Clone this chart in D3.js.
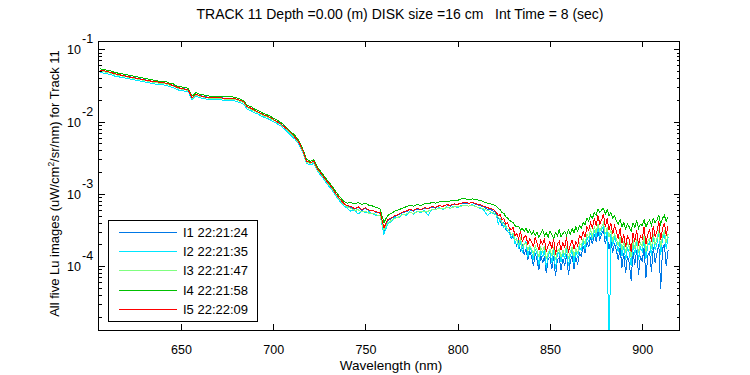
<!DOCTYPE html>
<html>
<head>
<meta charset="utf-8">
<script src="https://cdn.jsdelivr.net/npm/d3@7"></script>
<style>
  body { margin: 0; background: #fff; }
  text { font-family: "Liberation Sans", Arial, sans-serif; fill: #000; }
</style>
</head>
<body>
<div id="chart"></div>
<script>
// wavelength grid (nm): 2 nm steps to 820, then 1 nm steps in the noisy tail
const wavelengths = [
  606,608,610,612,614,616,618,620,622,624,
  626,628,630,632,634,636,638,640,642,644,
  646,648,650,652,654,656,658,660,662,664,
  666,668,670,672,674,676,678,680,682,684,
  686,688,690,692,694,696,698,700,702,704,
  706,708,710,712,714,716,718,720,722,724,
  726,728,730,732,734,736,738,740,742,744,
  746,748,750,752,754,756,758,760,762,764,
  766,768,770,772,774,776,778,780,782,784,
  786,788,790,792,794,796,798,800,802,804,
  806,808,810,812,814,816,818,820,
  821,822,823,824,825,826,827,828,829,830,
  831,832,833,834,835,836,837,838,839,840,
  841,842,843,844,845,846,847,848,849,850,
  851,852,853,854,855,856,857,858,859,860,
  861,862,863,864,865,866,867,868,869,870,
  871,872,873,874,875,876,877,878,879,880,
  881,882,883,884,885,886,887,888,889,890,
  891,892,893,894,895,896,897,898,899,900,
  901,902,903,904,905,906,907,908,909,910,
  911,912,913,914
];

// log10(Lu), one list per image
const logI1 = [
  -1.29,-1.30,-1.31,-1.32,-1.34,-1.35,-1.36,-1.37,-1.38,-1.39,
  -1.40,-1.41,-1.42,-1.43,-1.44,-1.45,-1.46,-1.46,-1.47,-1.49,
  -1.50,-1.53,-1.54,-1.55,-1.56,-1.67,-1.62,-1.64,-1.65,-1.66,
  -1.67,-1.67,-1.67,-1.67,-1.68,-1.68,-1.68,-1.69,-1.71,-1.73,
  -1.80,-1.82,-1.85,-1.87,-1.90,-1.92,-1.94,-1.97,-2.00,-2.03,
  -2.07,-2.12,-2.17,-2.22,-2.29,-2.40,-2.55,-2.57,-2.55,-2.66,
  -2.72,-2.79,-2.86,-2.92,-3.00,-3.07,-3.13,-3.17,-3.19,-3.21,
  -3.19,-3.23,-3.20,-3.24,-3.23,-3.26,-3.27,-3.52,-3.38,-3.34,
  -3.31,-3.29,-3.26,-3.25,-3.22,-3.24,-3.21,-3.22,-3.20,-3.21,
  -3.18,-3.20,-3.16,-3.18,-3.15,-3.17,-3.14,-3.15,-3.13,-3.13,
  -3.13,-3.12,-3.15,-3.16,-3.18,-3.21,-3.22,-3.25,
  -3.28,-3.34,-3.36,-3.44,-3.40,-3.50,-3.52,-3.50,-3.62,-3.58,
  -3.66,-3.72,-3.66,-3.80,-3.72,-3.84,-3.76,-3.92,-3.80,-3.86,
  -4.00,-3.82,-3.92,-4.06,-3.84,-3.96,-3.86,-4.10,-3.90,-3.88,
  -4.04,-3.86,-4.14,-3.92,-3.88,-4.06,-3.90,-4.00,-3.84,-4.12,
  -3.94,-3.86,-4.04,-3.88,-3.98,-3.82,-3.86,-3.72,-3.82,-3.66,
  -3.74,-3.60,-3.70,-3.56,-3.66,-3.52,-3.64,-3.56,-3.50,-3.70,
  -3.58,-3.76,-3.64,-3.82,-3.68,-3.78,-3.92,-3.74,-4.02,-3.82,
  -4.10,-3.86,-3.96,-4.20,-3.80,-3.98,-3.78,-4.12,-3.86,-3.94,
  -3.74,-4.16,-3.86,-3.80,-4.08,-3.74,-3.96,-3.82,-3.70,-4.32,
  -3.76,-3.70,-4.00,-3.78
];
const logI2 = [
  -1.32,-1.33,-1.34,-1.35,-1.37,-1.38,-1.39,-1.40,-1.41,-1.42,
  -1.43,-1.44,-1.45,-1.46,-1.47,-1.48,-1.49,-1.49,-1.50,-1.52,
  -1.53,-1.56,-1.57,-1.58,-1.59,-1.70,-1.65,-1.67,-1.68,-1.69,
  -1.70,-1.70,-1.70,-1.70,-1.71,-1.71,-1.71,-1.72,-1.74,-1.76,
  -1.83,-1.85,-1.88,-1.90,-1.93,-1.95,-1.97,-2.00,-2.03,-2.06,
  -2.10,-2.15,-2.20,-2.25,-2.32,-2.43,-2.58,-2.60,-2.58,-2.69,
  -2.75,-2.82,-2.89,-2.95,-3.03,-3.10,-3.16,-3.20,-3.24,-3.22,
  -3.28,-3.24,-3.26,-3.25,-3.28,-3.30,-3.30,-3.56,-3.42,-3.38,
  -3.33,-3.33,-3.28,-3.30,-3.25,-3.28,-3.24,-3.26,-3.23,-3.30,
  -3.21,-3.22,-3.19,-3.22,-3.18,-3.20,-3.17,-3.19,-3.16,-3.16,
  -3.17,-3.15,-3.18,-3.20,-3.22,-3.30,-3.26,-3.28,
  -3.30,-3.42,-3.34,-3.40,-3.46,-3.44,-3.52,-3.55,-3.60,-3.56,
  -3.70,-3.62,-3.76,-3.66,-3.82,-3.70,-3.66,-3.88,-3.74,-3.80,
  -3.92,-3.76,-3.84,-3.98,-3.78,-3.88,-3.76,-4.02,-3.86,-3.80,
  -3.96,-3.78,-4.04,-3.84,-3.80,-3.94,-3.82,-3.90,-3.76,-4.00,
  -3.86,-3.78,-3.96,-3.80,-3.88,-3.74,-3.78,-3.66,-3.76,-3.60,
  -3.66,-3.54,-3.64,-3.50,-3.60,-3.46,-3.58,-3.50,-3.44,-3.62,
  -3.52,-5.40,-3.56,-3.72,-3.60,-3.68,-3.80,-3.64,-3.86,-3.72,
  -3.92,-3.74,-3.82,-4.00,-3.70,-3.84,-3.66,-3.92,-3.74,-3.80,
  -3.62,-3.90,-3.72,-3.66,-3.86,-3.60,-3.78,-3.68,-3.54,-3.84,
  -3.62,-3.56,-3.76,-3.60
];
const logI3 = [
  -1.30,-1.31,-1.32,-1.33,-1.35,-1.36,-1.37,-1.38,-1.39,-1.40,
  -1.41,-1.42,-1.43,-1.44,-1.45,-1.46,-1.47,-1.47,-1.48,-1.50,
  -1.51,-1.54,-1.55,-1.56,-1.57,-1.68,-1.63,-1.65,-1.66,-1.67,
  -1.68,-1.68,-1.68,-1.68,-1.69,-1.69,-1.69,-1.70,-1.72,-1.74,
  -1.81,-1.83,-1.86,-1.88,-1.91,-1.93,-1.95,-1.98,-2.01,-2.04,
  -2.08,-2.13,-2.18,-2.23,-2.30,-2.41,-2.56,-2.58,-2.56,-2.67,
  -2.73,-2.80,-2.87,-2.93,-3.01,-3.08,-3.14,-3.18,-3.20,-3.23,
  -3.22,-3.25,-3.24,-3.27,-3.27,-3.29,-3.31,-3.50,-3.40,-3.37,
  -3.34,-3.32,-3.29,-3.28,-3.26,-3.27,-3.25,-3.25,-3.24,-3.24,
  -3.22,-3.22,-3.20,-3.21,-3.19,-3.20,-3.18,-3.18,-3.17,-3.16,
  -3.17,-3.16,-3.18,-3.19,-3.21,-3.23,-3.25,-3.27,
  -3.30,-3.33,-3.35,-3.40,-3.41,-3.46,-3.48,-3.52,-3.56,-3.55,
  -3.63,-3.64,-3.70,-3.62,-3.74,-3.70,-3.68,-3.78,-3.72,-3.76,
  -3.84,-3.72,-3.78,-3.88,-3.74,-3.80,-3.72,-3.90,-3.82,-3.76,
  -3.86,-3.74,-3.92,-3.80,-3.76,-3.88,-3.78,-3.84,-3.72,-3.90,
  -3.80,-3.74,-3.86,-3.76,-3.82,-3.68,-3.72,-3.62,-3.70,-3.56,
  -3.60,-3.50,-3.58,-3.46,-3.54,-3.42,-3.52,-3.46,-3.40,-3.56,
  -3.46,-3.60,-3.50,-3.66,-3.56,-3.62,-3.72,-3.60,-3.78,-3.66,
  -3.82,-3.68,-3.74,-3.88,-3.64,-3.76,-3.62,-3.82,-3.68,-3.72,
  -3.58,-3.80,-3.66,-3.62,-3.76,-3.56,-3.70,-3.62,-3.50,-3.74,
  -3.58,-3.52,-3.68,-3.56
];
const logI4 = [
  -1.27,-1.28,-1.29,-1.30,-1.32,-1.33,-1.34,-1.35,-1.36,-1.37,
  -1.38,-1.39,-1.40,-1.41,-1.42,-1.43,-1.44,-1.44,-1.45,-1.47,
  -1.48,-1.51,-1.52,-1.53,-1.54,-1.65,-1.60,-1.62,-1.63,-1.64,
  -1.65,-1.65,-1.65,-1.65,-1.65,-1.66,-1.66,-1.67,-1.69,-1.71,
  -1.78,-1.79,-1.83,-1.85,-1.88,-1.90,-1.92,-1.95,-1.98,-2.01,
  -2.05,-2.10,-2.15,-2.20,-2.27,-2.38,-2.52,-2.55,-2.53,-2.63,
  -2.70,-2.77,-2.83,-2.90,-2.97,-3.04,-3.10,-3.13,-3.12,-3.14,
  -3.12,-3.15,-3.13,-3.16,-3.17,-3.19,-3.21,-3.40,-3.30,-3.27,
  -3.24,-3.22,-3.20,-3.18,-3.16,-3.17,-3.15,-3.16,-3.14,-3.14,
  -3.12,-3.13,-3.11,-3.11,-3.10,-3.10,-3.09,-3.09,-3.07,-3.07,
  -3.08,-3.07,-3.08,-3.09,-3.11,-3.13,-3.14,-3.16,
  -3.17,-3.20,-3.22,-3.26,-3.27,-3.32,-3.33,-3.37,-3.38,-3.40,
  -3.44,-3.46,-3.45,-3.50,-3.48,-3.52,-3.47,-3.54,-3.50,-3.56,
  -3.52,-3.58,-3.53,-3.60,-3.55,-3.50,-3.58,-3.54,-3.60,-3.52,
  -3.56,-3.62,-3.54,-3.58,-3.50,-3.60,-3.55,-3.52,-3.58,-3.50,
  -3.56,-3.48,-3.54,-3.46,-3.52,-3.44,-3.47,-3.40,-3.43,-3.34,
  -3.38,-3.30,-3.34,-3.26,-3.30,-3.21,-3.26,-3.22,-3.20,-3.28,
  -3.22,-3.30,-3.26,-3.34,-3.30,-3.38,-3.42,-3.36,-3.46,-3.40,
  -3.48,-3.42,-3.46,-3.52,-3.40,-3.46,-3.38,-3.48,-3.42,-3.44,
  -3.36,-3.46,-3.40,-3.36,-3.44,-3.34,-3.40,-3.36,-3.30,-3.42,
  -3.34,-3.30,-3.38,-3.32
];
const logI5 = [
  -1.285,-1.297,-1.308,-1.322,-1.336,-1.349,-1.360,-1.372,-1.383,-1.392,
  -1.400,-1.412,-1.423,-1.432,-1.441,-1.447,-1.455,-1.462,-1.470,-1.486,
  -1.504,-1.526,-1.542,-1.552,-1.564,-1.668,-1.624,-1.640,-1.654,-1.664,
  -1.670,-1.671,-1.673,-1.674,-1.675,-1.676,-1.679,-1.690,-1.706,-1.728,
  -1.797,-1.815,-1.846,-1.874,-1.897,-1.918,-1.940,-1.969,-2.000,-2.033,
  -2.072,-2.118,-2.166,-2.224,-2.290,-2.400,-2.545,-2.570,-2.548,-2.655,
  -2.722,-2.790,-2.856,-2.922,-3.000,-3.068,-3.128,-3.165,-3.172,-3.205,
  -3.180,-3.215,-3.195,-3.225,-3.230,-3.250,-3.262,-3.470,-3.360,-3.335,
  -3.300,-3.285,-3.255,-3.240,-3.215,-3.230,-3.205,-3.218,-3.195,-3.200,
  -3.178,-3.185,-3.165,-3.172,-3.150,-3.160,-3.140,-3.145,-3.128,-3.122,
  -3.130,-3.118,-3.140,-3.148,-3.170,-3.192,-3.205,-3.230,
  -3.26,-3.30,-3.29,-3.36,-3.34,-3.42,-3.40,-3.47,-3.50,-3.46,
  -3.58,-3.55,-3.62,-3.52,-3.66,-3.60,-3.58,-3.70,-3.62,-3.66,
  -3.74,-3.60,-3.68,-3.78,-3.64,-3.70,-3.62,-3.80,-3.72,-3.66,
  -3.76,-3.62,-3.84,-3.70,-3.66,-3.78,-3.68,-3.74,-3.60,-3.82,
  -3.70,-3.64,-3.76,-3.66,-3.72,-3.58,-3.62,-3.52,-3.60,-3.46,
  -3.50,-3.40,-3.48,-3.34,-3.44,-3.30,-3.42,-3.36,-3.28,-3.46,
  -3.34,-3.50,-3.40,-3.56,-3.44,-3.52,-3.62,-3.48,-3.68,-3.56,
  -3.74,-3.58,-3.64,-3.80,-3.54,-3.66,-3.50,-3.72,-3.58,-3.62,
  -3.46,-3.70,-3.56,-3.50,-3.66,-3.44,-3.60,-3.52,-3.38,-3.64,
  -3.48,-3.40,-3.58,-3.44
];

const seriesNames = ["I1 22:21:24", "I2 22:21:35", "I3 22:21:47", "I4 22:21:58", "I5 22:22:09"];
const seriesColors = ["#0078e6", "#00e6ff", "#80ff80", "#00c000", "#ff0000"];
const seriesLogs = [logI1, logI2, logI3, logI4, logI5];

const xTicks = [650, 700, 750, 800, 850, 900];
const yDecades = [-1, -2, -3, -4];

const width = 750;
const height = 375;
const plot = { left: 98.5, right: 679.5, top: 41, bottom: 330 };

const svg = d3.select("#chart")
  .append("svg")
  .attr("width", width)
  .attr("height", height);

const x = d3.scaleLinear().domain([605.3, 920.2]).range([plot.left, plot.right]);
const y = d3.scaleLog().domain([1.303e-5, 0.1303]).range([plot.bottom, plot.top]);

svg.append("defs").append("clipPath").attr("id", "plotClip")
  .append("rect")
  .attr("x", plot.left).attr("y", plot.top)
  .attr("width", plot.right - plot.left).attr("height", plot.bottom - plot.top);

// spectra, I1 drawn first so I5 ends on top
const line = d3.line()
  .x((d, i) => x(wavelengths[i]))
  .y(d => y(Math.pow(10, d)));

svg.append("g").attr("clip-path", "url(#plotClip)")
  .selectAll("path")
  .data(seriesLogs)
  .enter()
  .append("path")
  .attr("d", d => line(d))
  .attr("fill", "none")
  .attr("stroke", (d, i) => seriesColors[i])
  .attr("stroke-width", 1)
  .attr("shape-rendering", "crispEdges");

// axes: inward ticks on all four sides
const majorY = yDecades.map(k => Math.pow(10, k));
const minorY = y.ticks().filter(v => {
  const m = Math.round(v / Math.pow(10, Math.floor(Math.log10(v) + 1e-9)));
  return m !== 1;
});

const styleAxis = g => {
  g.select(".domain").remove();
  g.selectAll("line").attr("stroke", "#000").attr("shape-rendering", "crispEdges");
};

svg.append("g")
  .attr("transform", `translate(0,${plot.bottom})`)
  .call(d3.axisBottom(x).tickValues(xTicks).tickSizeInner(-6).tickSizeOuter(0).tickPadding(15))
  .call(styleAxis)
  .call(g => g.selectAll("text").attr("font-size", 12.5).attr("font-family", null));

svg.append("g")
  .attr("transform", `translate(0,${plot.top})`)
  .call(d3.axisTop(x).tickValues(xTicks).tickSizeInner(-6).tickSizeOuter(0).tickFormat(""))
  .call(styleAxis);

svg.append("g")
  .attr("transform", `translate(${plot.left},0)`)
  .call(d3.axisLeft(y).tickValues(minorY).tickSizeInner(-3).tickSizeOuter(0).tickFormat(""))
  .call(styleAxis);

svg.append("g")
  .attr("transform", `translate(${plot.right},0)`)
  .call(d3.axisRight(y).tickValues(minorY).tickSizeInner(-3).tickSizeOuter(0).tickFormat(""))
  .call(styleAxis);

svg.append("g")
  .attr("transform", `translate(${plot.left},0)`)
  .call(d3.axisLeft(y).tickValues(majorY).tickSizeInner(-6).tickSizeOuter(0).tickFormat(""))
  .call(styleAxis);

svg.append("g")
  .attr("transform", `translate(${plot.right},0)`)
  .call(d3.axisRight(y).tickValues(majorY).tickSizeInner(-6).tickSizeOuter(0).tickFormat(""))
  .call(styleAxis);

// decade labels 10^k
const yLabels = svg.append("g").selectAll("g")
  .data(yDecades)
  .enter()
  .append("g")
  .attr("transform", k => `translate(0,${y(Math.pow(10, k))})`);

yLabels.append("text")
  .attr("x", 81)
  .attr("y", 5)
  .attr("text-anchor", "end")
  .attr("font-size", 12.5)
  .text("10");

yLabels.append("text")
  .attr("x", 82)
  .attr("y", -6)
  .attr("font-size", 12.5)
  .text(k => k);

// plot box
svg.append("rect")
  .attr("x", plot.left).attr("y", plot.top)
  .attr("width", plot.right - plot.left).attr("height", plot.bottom - plot.top)
  .attr("fill", "none")
  .attr("stroke", "#000")
  .attr("shape-rendering", "crispEdges");

// titles
svg.append("text")
  .attr("x", 400)
  .attr("y", 19)
  .attr("text-anchor", "middle")
  .attr("font-size", 14)
  .style("white-space", "pre")
  .text("TRACK 11 Depth =0.00 (m) DISK size =16 cm   Int Time = 8 (sec)");

svg.append("text")
  .attr("x", 391)
  .attr("y", 370)
  .attr("text-anchor", "middle")
  .attr("font-size", 13.5)
  .text("Wavelength (nm)");

const yTitle = svg.append("text")
  .attr("transform", `translate(59,${(plot.top + plot.bottom) / 2 - 2}) rotate(-90)`)
  .attr("text-anchor", "middle")
  .attr("font-size", 13);
yTitle.append("tspan").text("All five Lu images (uW/cm");
yTitle.append("tspan").attr("font-size", 8.5).attr("dy", -5).text("2");
yTitle.append("tspan").attr("dy", 5).text("/sr/nm) for Track 11");

// legend
const legend = svg.append("g");
legend.append("rect")
  .attr("x", 108.5).attr("y", 220.5)
  .attr("width", 149).attr("height", 101)
  .attr("fill", "#fff")
  .attr("stroke", "#000")
  .attr("shape-rendering", "crispEdges");

const rowY = d3.scaleLinear().domain([0, 4]).range([231.5, 309]);
const rows = legend.selectAll("g.row")
  .data(seriesNames)
  .enter()
  .append("g")
  .attr("class", "row")
  .attr("transform", (d, i) => `translate(0,${Math.round(rowY(i)) + 0.5})`);

rows.append("line")
  .attr("x1", 119).attr("x2", 177)
  .attr("stroke", (d, i) => seriesColors[i])
  .attr("shape-rendering", "crispEdges");

rows.append("text")
  .attr("x", 183)
  .attr("y", 4.5)
  .attr("font-size", 13)
  .text(d => d);
</script>
</body>
</html>
